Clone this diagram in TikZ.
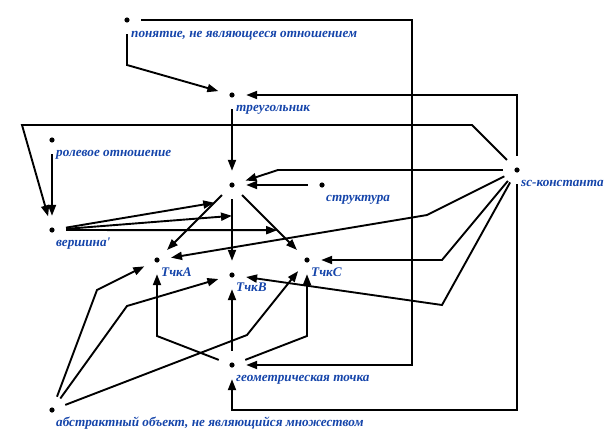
\documentclass[tikz,border=0pt]{standalone}
\usepackage{fontspec}
\setmainfont{Liberation Serif}
\usetikzlibrary{arrows.meta,calc}
\definecolor{scblue}{RGB}{20,68,170}
\begin{document}
\begin{tikzpicture}[x=1pt,y=-1pt,
  pt/.style={circle,minimum size=28pt,inner sep=0pt,
    path picture={\fill[black] (path picture bounding box.center) circle (2.6pt);}},
  lab/.style={anchor=base west,inner sep=0pt,text=scblue,font=\fontsize{13.2}{15}\selectfont\bfseries\itshape},
  arc/.style={-{Triangle[length=11pt,width=8pt]},line width=1.9pt},
  ln/.style={line width=1.9pt}]
\useasboundingbox (0,0) rectangle (615,439);
% dots
\node[pt] (pon) at (127,20) {};
\node[pt] (tri) at (232,95) {};
\node[pt] (rol) at (52,140) {};
\node[pt] (cen) at (232,185) {};
\node[pt] (str) at (322,185) {};
\node[pt] (sc) at (517,170) {};
\node[pt] (ver) at (52,230) {};
\node[pt] (tA) at (157,260) {};
\node[pt] (tB) at (232,275) {};
\node[pt] (tC) at (307,260) {};
\node[pt] (geo) at (232,365) {};
\node[pt] (abs) at (52,410) {};
% labels
\node[lab] (ponL) at (131,37) {понятие, не являющееся отношением};
\node[lab] (triL) at (236,111) {треугольник};
\node[lab] (rolL) at (56,156) {ролевое отношение};
\node[lab] (strL) at (326,201) {структура};
\node[lab] (scL) at (521,186) {sc-константа};
\node[lab] (verL) at (56,246) {вершина\textquotesingle};
\node[lab] (tAL) at (161,276) {ТчкA};
\node[lab] (tBL) at (236,291) {ТчкB};
\node[lab] (tCL) at (311,276) {ТчкC};
\node[lab] (geoL) at (236,381) {геометрическая точка};
\node[lab] (absL) at (56,426) {абстрактный объект, не являющийся множеством};
% waypoints
\coordinate (p1) at (127,65);
\coordinate (p2) at (412,20);
\coordinate (p3) at (412,365);
\coordinate (s1) at (517,95);
\coordinate (s2) at (517,410);
\coordinate (s3) at (232,410);
\coordinate (s4) at (472,125);
\coordinate (s5) at (22,125);
\coordinate (s6) at (278,170);
\coordinate (s7) at (427,215);
\coordinate (s8) at (442,260);
\coordinate (s9) at (442,305);
\coordinate (a1) at (97,290);
\coordinate (a2) at (127,306);
\coordinate (a3) at (247,335);
\coordinate (g1) at (157,336);
\coordinate (g2) at (307,336);
% connectors
\draw[arc] (pon) -- (p1) -- (tri);
\draw[arc] (pon) -- (p2) -- (p3) -- (geo);
\draw[arc] (sc) -- (s1) -- (tri);
\draw[arc] (sc) -- (s2) -- (s3) -- (geo);
\draw[arc] (sc) -- (s4) -- (s5) -- (ver);
\draw[arc] (rol) -- (ver);
\draw[arc] (sc) -- (s6) -- (cen);
\draw[arc] (str) -- (cen);
\draw[arc] (sc) -- (s7) -- (tA);
\draw[arc] (sc) -- (s8) -- (tC);
\draw[arc] (sc) -- (s9) -- (tB);
\draw[arc] (tri) -- (cen);
\draw[arc] (cen) -- coordinate[pos=0.14] (eA) (tA);
\draw[arc] (cen) -- coordinate[pos=0.27] (eB) (tB);
\draw[arc] (cen) -- coordinate[pos=0.64] (eC) (tC);
\draw[arc] (ver) -- (eA);
\draw[arc] (ver) -- (eB);
\draw[arc] (ver) -- (eC);
\draw[arc] (abs) -- (a1) -- (tA);
\draw[arc] (abs) -- (a2) -- (tB);
\draw[arc] (abs) -- (a3) -- (tC);
\draw[arc] (geo) -- (g1) -- (tA);
\draw[arc] (geo) -- (tB);
\draw[arc] (geo) -- (g2) -- (tC);
\end{tikzpicture}
\end{document}
